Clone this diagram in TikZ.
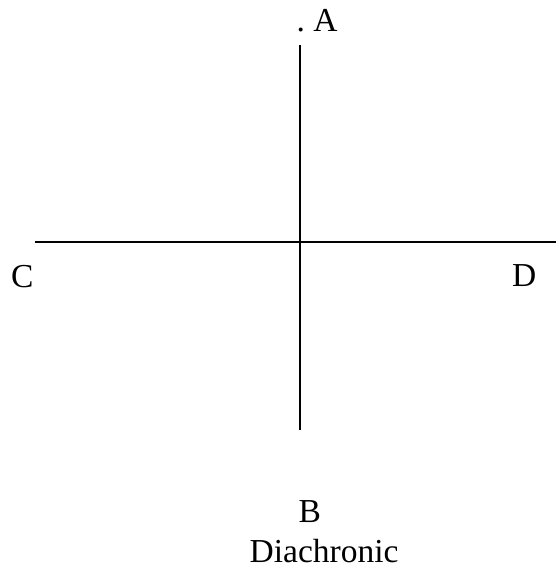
\documentclass[tikz,border=0pt]{standalone}
\usepackage{fontspec}
\setmainfont{Liberation Serif}
\begin{document}
\begin{tikzpicture}[x=1pt,y=-1pt,
  lbl/.style={inner sep=0pt,anchor=base west,font=\fontsize{33.5}{38}\selectfont},
  axis/.style={line width=2pt,black}]
\useasboundingbox (0,0) rectangle (556,567);
\coordinate (top) at (300,45);
\coordinate (bot) at (300,430);
\coordinate (left) at (35,242);
\coordinate (right) at (556,242);
\draw[axis] (top) -- (bot);
\draw[axis] (left) -- (right);
\node[lbl] (A) at (296.5,32) {.\ A};
\node[lbl] (C) at (11,287) {C};
\node[lbl] (D) at (512,286) {D};
\node[lbl] (B) at (298.5,522) {B};
\node[lbl] (Dia) at (249.5,562.5) {Diachronic};
\end{tikzpicture}
\end{document}
